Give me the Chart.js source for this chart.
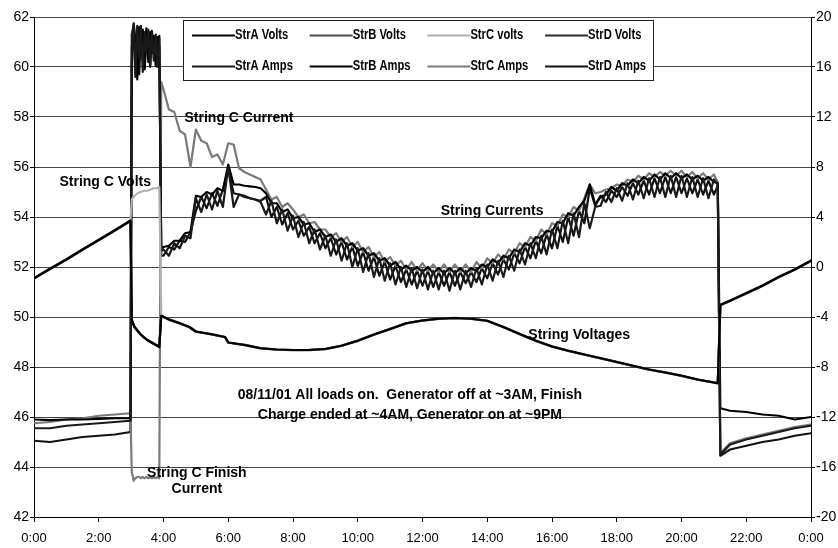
<!DOCTYPE html>
<html>
<head>
<meta charset="utf-8">
<script src="https://cdn.jsdelivr.net/npm/chart.js@4.4.1/dist/chart.umd.min.js"></script>
<style>
  html, body { margin: 0; padding: 0; background: #fff; }
  #stringChart { display: block; }
</style>
</head>
<body>
<canvas id="stringChart" width="838" height="548"></canvas>
<script>
// x tick labels (every 2 hours, 0:00 .. 0:00 next day)
const hourLabels = ['0:00', '2:00', '4:00', '6:00', '8:00', '10:00', '12:00',
  '14:00', '16:00', '18:00', '20:00', '22:00', '0:00'];

// ---- Voltages (left axis), sample times in hours ----
const voltTimes = [0, 0.5, 1, 1.5, 2, 2.5, 2.98,
  3.02, 3.1, 3.2, 3.3, 3.4, 3.5, 3.6, 3.7, 3.8, 3.87,
  3.93, 4.2, 4.5, 4.8, 5, 5.5, 5.9, 6,
  6.5, 7, 7.5, 8, 8.5, 9, 9.5, 10, 10.5, 11, 11.5, 12, 12.5, 13, 13.5, 14, 14.5,
  15, 15.5, 16, 16.5, 17, 17.5, 18, 18.5, 19, 19.5, 20, 20.5, 21,
  21.12, 21.2, 21.5, 22, 22.5, 23, 23.5, 24];

const strAVolts = [51.55, 51.93, 52.3, 52.7, 53.08, 53.47, 53.85,
  49.88, 49.62, 49.45, 49.3, 49.18, 49.08, 49.0, 48.93, 48.86, 48.8,
  50.05, 49.88, 49.75, 49.6, 49.42, 49.3, 49.2, 48.98,
  48.88, 48.75, 48.7, 48.68, 48.68, 48.72, 48.85, 49.05, 49.3, 49.52, 49.75, 49.86, 49.93, 49.96, 49.93, 49.85, 49.6,
  49.32, 49.05, 48.82, 48.65, 48.5, 48.35, 48.2, 48.05, 47.9, 47.78, 47.65, 47.5, 47.38,
  47.35, 50.48, 50.65, 50.95, 51.25, 51.6, 51.9, 52.25];
const strBVolts = [51.56, 51.94, 52.31, 52.7, 53.09, 53.47, 53.86,
  49.9, 49.6, 49.44, 49.3, 49.2, 49.08, 49.02, 48.94, 48.86, 48.82,
  50.04, 49.9, 49.76, 49.6, 49.42, 49.32, 49.2, 48.97,
  48.9, 48.76, 48.7, 48.68, 48.69, 48.73, 48.86, 49.06, 49.3, 49.53, 49.76, 49.87, 49.94, 49.97, 49.94, 49.85, 49.6,
  49.33, 49.06, 48.83, 48.66, 48.5, 48.36, 48.21, 48.05, 47.9, 47.79, 47.66, 47.5, 47.39,
  47.36, 50.5, 50.66, 50.96, 51.26, 51.6, 51.91, 52.26];
const strCVolts = [51.55, 51.93, 52.3, 52.7, 53.08, 53.47, 53.85,
  54.7, 54.85, 54.95, 55.0, 55.05, 55.05, 55.1, 55.15, 55.15, 55.2,
  50.05, 49.88, 49.75, 49.6, 49.42, 49.3, 49.2, 48.98,
  48.88, 48.75, 48.7, 48.68, 48.68, 48.72, 48.85, 49.05, 49.3, 49.52, 49.75, 49.86, 49.93, 49.96, 49.93, 49.85, 49.6,
  49.32, 49.05, 48.82, 48.65, 48.5, 48.35, 48.2, 48.05, 47.9, 47.78, 47.65, 47.5, 47.38,
  47.35, 50.48, 50.65, 50.95, 51.25, 51.6, 51.9, 52.25];
const strDVolts = [51.54, 51.92, 52.29, 52.69, 53.07, 53.46, 53.84,
  49.86, 49.6, 49.44, 49.29, 49.17, 49.07, 49.0, 48.92, 48.85, 48.8,
  50.06, 49.87, 49.74, 49.59, 49.41, 49.3, 49.19, 48.98,
  48.87, 48.74, 48.69, 48.67, 48.67, 48.71, 48.84, 49.04, 49.29, 49.51, 49.74, 49.85, 49.92, 49.95, 49.92, 49.84, 49.59,
  49.31, 49.04, 48.81, 48.64, 48.49, 48.34, 48.19, 48.04, 47.89, 47.77, 47.64, 47.49, 47.37,
  47.34, 50.47, 50.64, 50.94, 51.24, 51.59, 51.89, 52.24];

// ---- Currents (right axis) ----
// daytime samples every 10 minutes from 4:00 to 21:00
const dayTimes = Array.from({ length: 103 }, (_, i) => 4 + i / 6);
const ampTimes = [0, 0.5, 1, 1.5, 2, 2.5, 2.98,
  3.02, 3.08, 3.13, 3.19, 3.25, 3.3, 3.36, 3.42, 3.47, 3.53, 3.59, 3.64, 3.7, 3.76, 3.81, 3.87,
  3.93, ...dayTimes, 21.12,
  21.2, 21.5, 22, 22.5, 23, 23.5, 24];

const strAAmps = [-12.9, -12.9, -12.7, -12.6, -12.5, -12.4, -12.3,
  18.6, 19.4, 15.2, 19.1, 16.8, 19.3, 15.6, 18.8, 17.2, 19.0, 16.2, 18.7, 16.5, 18.6, 16.0, 18.3,
  1.3,
  1.4, 0.9, 1.9, 1.5, 2.5, 2.3, 5.5, 4.4, 5.8, 4.6, 6.1, 4.8,
  8.0, 4.8, 5.8, 5.6, 5.5, 5.4, 5.2,
  4.2, 5.3, 3.5, 4.6, 2.9, 4.1, 2.4, 3.6, 1.9, 3.0, 1.4, 2.5, 0.9, 2.2, 0.5, 1.9, 0.0,
  1.5, -0.4, 1.1, -0.8, 0.7, -1.1, 0.3, -1.4, 0.0, -1.6, -0.1, -1.7, -0.2, -1.8, -0.3, -1.8, -0.3, -1.9, -0.3, -1.8, -0.3, -1.6, -0.1, -1.4,
  0.2, -1.1, 0.5, -0.8, 0.9, -0.3, 1.4, 0.2, 1.9, 0.7, 2.5, 1.0, 3.0, 1.5, 3.7, 1.9, 4.3, 2.4, 5.1, 3.1,
  4.8, 4.9, 6.0, 5.2, 6.3, 5.3, 6.7, 5.4, 6.9, 5.5, 7.1, 5.6, 7.2, 5.6, 7.3, 5.6, 7.3, 5.6, 7.2, 5.6, 7.1, 5.5, 7.0,
  6.6,
  -15.0, -14.2, -13.8, -13.5, -13.2, -12.9, -12.7];
const strBAmps = [-12.2, -12.25, -12.2, -12.2, -12.15, -12.1, -12.1,
  17.5, 19.5, 18.2, 15.0, 19.2, 17.0, 19.0, 16.0, 18.9, 16.4, 18.8, 17.1, 18.5, 16.1, 18.4, 17.6,
  1.5,
  1.6, 1.7, 2.1, 2.1, 2.7, 2.8, 5.7, 5.6, 6.0, 5.8, 6.3, 6.1,
  8.2, 6.6, 6.6, 6.5, 6.45, 6.4, 6.3,
  5.9, 5.1, 5.1, 4.4, 4.6, 3.9, 4.0, 3.4, 3.5, 2.8, 3.0, 2.4, 2.6, 2.0, 2.3, 1.7, 1.9,
  1.3, 1.5, 0.9, 1.1, 0.5, 0.7, 0.1, 0.4, -0.2, 0.1, -0.3, 0.0, -0.4, 0.0, -0.5, -0.1, -0.5, -0.1, -0.5, -0.1, -0.5, -0.1, -0.3, 0.2,
  0.0, 0.6, 0.3, 0.9, 0.7, 1.4, 1.2, 1.9, 1.7, 2.4, 2.3, 2.9, 2.8, 3.6, 3.5, 4.3, 4.1, 4.8, 5.3, 6.6,
  5.0, 5.6, 5.8, 6.4, 6.1, 6.7, 6.5, 7.0, 6.7, 7.2, 6.9, 7.4, 7.0, 7.5, 7.1, 7.5, 7.1, 7.4, 7.0, 7.3, 6.9, 7.2, 6.8,
  6.7,
  -11.3, -11.5, -11.6, -11.8, -11.9, -12.2, -12.0];
const strCAmps = [-12.5, -12.4, -12.2, -12.1, -11.9, -11.8, -11.7,
  -16.4, -17.1, -16.9, -16.8, -16.8, -16.9, -16.8, -16.9, -16.8, -16.9, -16.8, -16.9, -16.8, -16.9, -16.8, -16.9,
  14.8,
  14.2, 12.6, 12.4, 10.9, 10.6, 8.0, 11.0, 10.1, 9.9, 8.8, 9.0, 8.2,
  9.9, 9.8, 7.9, 7.6, 7.4, 7.2, 7.0,
  6.2, 5.4, 5.6, 4.8, 5.1, 4.6, 4.0, 4.2, 3.5, 3.6, 3.0, 3.0, 2.4, 2.7, 2.0, 2.4, 1.6,
  2.0, 1.2, 1.6, 0.8, 1.2, 0.4, 0.8, 0.1, 0.5, -0.2, 0.4, -0.3, 0.3, -0.3, 0.2, -0.4, 0.2, -0.4, 0.2, -0.4, 0.2, -0.4, 0.4, -0.1,
  0.7, 0.3, 1.0, 0.6, 1.4, 1.1, 1.9, 1.6, 2.4, 2.1, 3.0, 2.6, 3.5, 3.3, 4.2, 4.0, 4.8, 4.5, 5.5, 6.6,
  5.9, 6.0, 6.2, 6.3, 6.6, 6.5, 7.0, 6.8, 7.3, 7.0, 7.5, 7.2, 7.6, 7.3, 7.7, 7.3, 7.7, 7.2, 7.6, 7.1, 7.5, 7.0, 7.4,
  6.8,
  -14.9, -14.1, -13.7, -13.4, -13.1, -12.8, -12.6];
const strDAmps = [-13.9, -14.0, -13.8, -13.6, -13.5, -13.4, -13.2,
  16.2, 18.8, 17.0, 19.3, 15.4, 18.6, 18.1, 15.8, 19.1, 17.8, 16.0, 18.9, 17.4, 18.2, 16.3, 18.5,
  0.9,
  0.9, 1.6, 1.4, 2.1, 2.0, 2.8, 4.5, 5.6, 4.7, 5.9, 4.9, 6.2,
  7.8, 5.9, 5.8, 5.7, 5.5, 5.4, 5.3,
  5.6, 4.0, 4.8, 3.4, 4.3, 3.0, 3.7, 2.5, 3.2, 1.9, 2.7, 1.5, 2.3, 1.0, 2.0, 0.6, 1.6,
  0.1, 1.2, -0.3, 0.8, -0.7, 0.4, -1.0, 0.1, -1.2, -0.2, -1.4, -0.3, -1.5, -0.3, -1.6, -0.4, -1.5, -0.4, -1.5, -0.4, -1.3, -0.4, -1.2, -0.1,
  -0.9, 0.3, -0.6, 0.6, -0.2, 1.1, 0.3, 1.6, 0.7, 2.1, 1.1, 2.6, 1.5, 3.3, 2.0, 4.0, 2.5, 4.5, 3.5, 6.3,
  4.9, 5.7, 5.2, 6.1, 5.6, 6.4, 5.7, 6.7, 5.8, 6.9, 5.8, 7.1, 5.9, 7.2, 5.9, 7.2, 5.9, 7.1, 5.9, 7.0, 5.8, 6.9, 5.8,
  6.5,
  -15.1, -14.6, -14.3, -14.0, -13.8, -13.5, -13.3];

// text notes placed in data units (hours, left-axis volts)
const notes = [
  { text: 'String C Current', h: 6.33, v: 57.96 },
  { text: 'String C Volts', h: 2.2, v: 55.4 },
  { text: 'String Currents', h: 14.15, v: 54.24 },
  { text: 'String Voltages', h: 16.84, v: 49.28 },
  { text: '08/11/01 All loads on.  Generator off at ~3AM, Finish', h: 11.61, v: 46.88 },
  { text: 'Charge ended at ~4AM, Generator on at ~9PM', h: 11.61, v: 46.08 },
  { text: 'String C Finish', h: 5.03, v: 43.76 },
  { text: 'Current', h: 5.03, v: 43.12 }
];

const sans = "'Liberation Sans', Arial, sans-serif";

const pts = (times, vals) => times.map((t, i) => ({ x: t, y: vals[i] }));
const series = (label, times, vals, color, axis) => ({
  label, data: pts(times, vals), yAxisID: axis,
  borderColor: color, backgroundColor: color,
  borderWidth: 2.2, borderJoinStyle: 'round', borderCapStyle: 'round',
  pointRadius: 0, tension: 0, fill: false
});

// legend drawn as a framed box inside the plot, two rows of four
const boxLegend = {
  id: 'boxLegend',
  afterDraw(chart) {
    const ctx = chart.ctx;
    ctx.save();
    ctx.fillStyle = '#fff';
    ctx.fillRect(183, 20, 471, 61);
    ctx.strokeStyle = '#222';
    ctx.lineWidth = 1;
    ctx.strokeRect(183.5, 20.5, 470, 60);
    ctx.textBaseline = 'middle';
    ctx.textAlign = 'left';
    chart.data.datasets.forEach((ds, i) => {
      const x = 192 + (i % 4) * 117.7;
      const y = i < 4 ? 35.5 : 66.5;
      ctx.strokeStyle = ds.borderColor;
      ctx.lineWidth = 2;
      ctx.beginPath();
      ctx.moveTo(x, y);
      ctx.lineTo(x + 43, y);
      ctx.stroke();
      // condensed label text, like the original
      ctx.save();
      ctx.translate(x + 43, y);
      ctx.scale(0.8, 1);
      ctx.font = 'bold 14px ' + sans;
      ctx.fillStyle = '#000';
      ctx.fillText(ds.label, 0, 0);
      ctx.restore();
    });
    ctx.restore();
  }
};

const noteLabels = {
  id: 'noteLabels',
  afterDatasetsDraw(chart) {
    const ctx = chart.ctx;
    const xs = chart.scales.x, ys = chart.scales.yV;
    ctx.save();
    ctx.font = 'bold 14px ' + sans;
    ctx.fillStyle = '#000';
    ctx.textAlign = 'center';
    ctx.textBaseline = 'middle';
    notes.forEach(n => ctx.fillText(n.text, xs.getPixelForValue(n.h), ys.getPixelForValue(n.v)));
    ctx.restore();
  }
};

new Chart(document.getElementById('stringChart'), {
  type: 'line',
  data: {
    datasets: [
      series('StrA Volts', voltTimes, strAVolts, '#000000', 'yV'),
      series('StrB Volts', voltTimes, strBVolts, '#4d4d4d', 'yV'),
      series('StrC volts', voltTimes, strCVolts, '#b0b0b0', 'yV'),
      series('StrD Volts', voltTimes, strDVolts, '#2a2a2a', 'yV'),
      series('StrA Amps', ampTimes, strAAmps, '#1a1a1a', 'yA'),
      series('StrB Amps', ampTimes, strBAmps, '#000000', 'yA'),
      series('StrC Amps', ampTimes, strCAmps, '#7a7a7a', 'yA'),
      series('StrD Amps', ampTimes, strDAmps, '#111111', 'yA')
    ]
  },
  options: {
    responsive: false,
    animation: false,
    devicePixelRatio: 1,
    layout: { padding: { top: 17, right: 0, bottom: 0, left: 0 } },
    plugins: {
      legend: { display: false },
      tooltip: { enabled: false }
    },
    scales: {
      x: {
        type: 'linear', min: 0, max: 24,
        grid: { drawOnChartArea: false, tickLength: 5, tickColor: '#000' },
        border: { color: '#000', width: 1 },
        ticks: {
          stepSize: 2, autoSkip: false, maxRotation: 0, padding: 9, color: '#000',
          font: { family: sans, size: 13 },
          callback: v => hourLabels[Math.round(v / 2)]
        },
        afterFit: s => { s.height = 31; }
      },
      yV: {
        position: 'left', min: 42, max: 62,
        grid: { color: '#444', lineWidth: 1, tickLength: 4, tickColor: '#000' },
        border: { color: '#000', width: 1 },
        ticks: { stepSize: 2, padding: 1, color: '#000', font: { family: sans, size: 14 } },
        afterFit: s => { s.width = 34; }
      },
      yA: {
        position: 'right', min: -20, max: 20,
        grid: { drawOnChartArea: false, tickLength: 4, tickColor: '#000' },
        border: { color: '#000', width: 1 },
        ticks: { stepSize: 4, padding: 1, color: '#000', font: { family: sans, size: 14 } },
        afterFit: s => { s.width = 27; }
      }
    }
  },
  plugins: [noteLabels, boxLegend]
});
</script>
</body>
</html>
